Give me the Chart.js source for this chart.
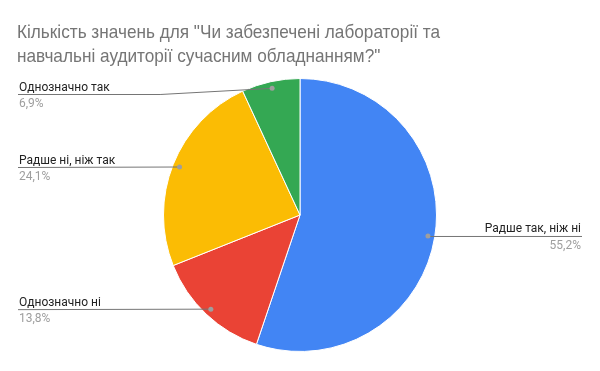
<!DOCTYPE html>
<html lang="uk">
<head>
  <meta charset="UTF-8" />
  <title>Кількість значень</title>
  <script src="https://cdn.jsdelivr.net/npm/chart.js"></script>
  <style>
    html, body { margin: 0; padding: 0; background: #fff; }
    #wrap { width: 600px; height: 371px; position: relative; }
  </style>
</head>
<body>
  <div id="wrap"><canvas id="pieChart"></canvas></div>

  <script>
    // chart data
    const titleLines = [
      'Кількість значень для "Чи забезпечені лабораторії та',
      'навчальні аудиторії сучасним обладнанням?"'
    ];
    const categories = ['Радше так, ніж ні', 'Однозначно ні', 'Радше ні, ніж так', 'Однозначно так'];
    const counts = [16, 4, 7, 2];
    const sliceColors = ['#4285F4', '#EA4335', '#FBBC04', '#34A853'];

    const total = counts.reduce((a, b) => a + b, 0);
    const pct = v => (v / total * 100).toFixed(1).replace('.', ',') + '%';

    // title + leader-line labels, drawn like the Sheets chart
    const sheetLabels = {
      id: 'sheetLabels',
      afterDraw(chart) {
        const ctx = chart.ctx;
        ctx.save();

        // title is a squeezed Arial in the original, so scale it to the same width
        ctx.fillStyle = '#757575';
        ctx.font = '18.5px "Liberation Sans", Arial, sans-serif';
        ctx.textAlign = 'left';
        ctx.textBaseline = 'alphabetic';
        const sx = 423 / ctx.measureText(titleLines[0]).width;
        ctx.save();
        ctx.translate(17, 0);
        ctx.scale(sx, 1);
        titleLines.forEach((line, i) => ctx.fillText(line, 0, 38 + i * 23.5));
        ctx.restore();

        const meta = chart.getDatasetMeta(0);
        meta.data.forEach((arc, i) => {
          const p = arc.getProps(['x', 'y', 'startAngle', 'endAngle', 'outerRadius'], true);
          const mid = (p.startAngle + p.endAngle) / 2;
          const r = p.outerRadius * 0.95;
          const dx = p.x + Math.cos(mid) * r;
          const dy = p.y + Math.sin(mid) * r;
          const right = Math.cos(mid) > 0;
          const ly = Math.max(dy, 94) + 0.5;

          ctx.strokeStyle = '#757575';
          ctx.lineWidth = 1;
          ctx.beginPath();
          if (right) {
            ctx.moveTo(dx, ly);
            ctx.lineTo(582, ly);
          } else {
            ctx.moveTo(18, ly);
            if (Math.abs(ly - dy) > 1) {
              ctx.lineTo(dx - 112, ly);
            }
            ctx.lineTo(dx, dy);
          }
          ctx.stroke();

          ctx.fillStyle = '#9e9e9e';
          ctx.beginPath();
          ctx.arc(dx, dy, 2.5, 0, Math.PI * 2);
          ctx.fill();

          ctx.font = '12px Roboto, Arial, sans-serif';
          ctx.textAlign = right ? 'right' : 'left';
          const tx = right ? 581 : 19;
          ctx.fillStyle = '#222222';
          ctx.fillText(categories[i], tx, ly - 4);
          ctx.fillStyle = '#9e9e9e';
          ctx.fillText(pct(counts[i]), tx, ly + 12.5);
        });
        ctx.restore();
      }
    };

    new Chart(document.getElementById('pieChart'), {
      type: 'pie',
      data: {
        labels: categories,
        datasets: [{
          data: counts,
          backgroundColor: sliceColors,
          borderColor: '#ffffff',
          borderWidth: 1
        }]
      },
      options: {
        responsive: true,
        maintainAspectRatio: false,
        animation: false,
        layout: { padding: { top: 78, bottom: 19, left: 163, right: 163 } },
        plugins: {
          legend: { display: false },
          tooltip: { enabled: false }
        }
      },
      plugins: [sheetLabels]
    });
  </script>
</body>
</html>
